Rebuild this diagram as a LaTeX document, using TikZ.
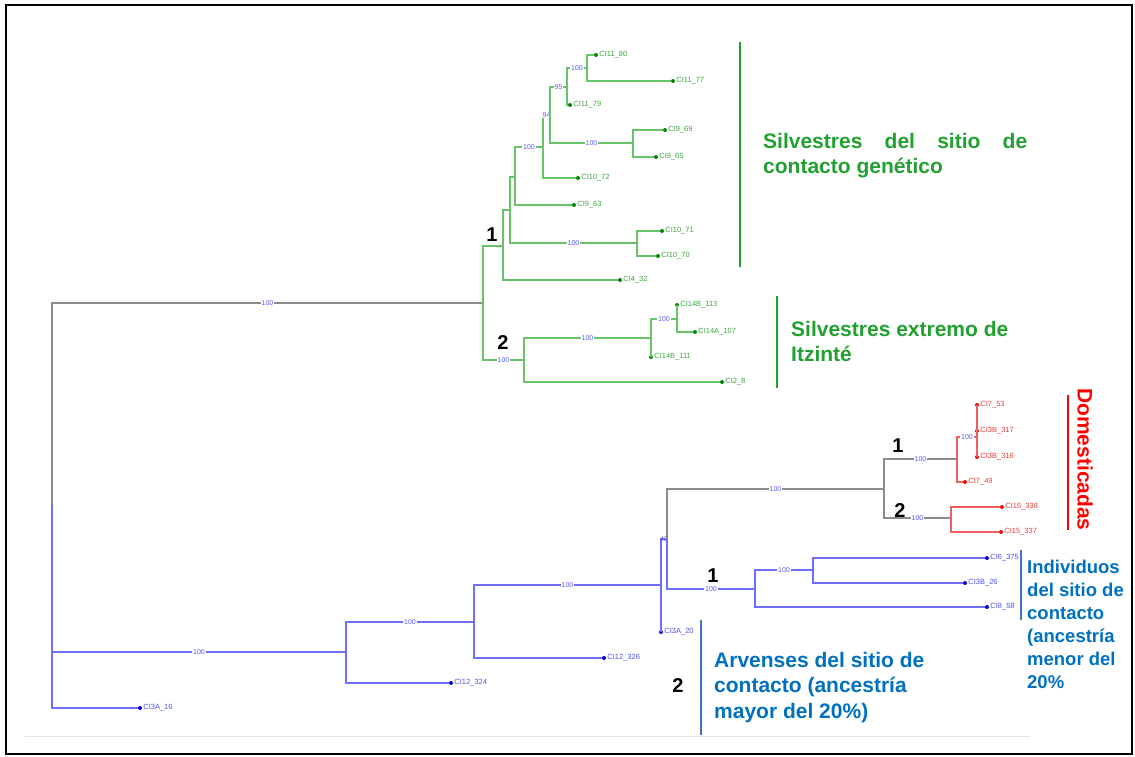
\documentclass[tikz,border=0pt]{standalone}
\usepackage{fontspec}
\setmainfont{Liberation Sans}
\definecolor{ramaverde}{RGB}{105,195,105}
\definecolor{puntoverde}{RGB}{0,135,0}
\definecolor{txtv}{RGB}{60,165,60}
\definecolor{ramaazul}{RGB}{110,110,255}
\definecolor{puntoazul}{RGB}{0,0,210}
\definecolor{txta}{RGB}{80,80,235}
\definecolor{ramaroja}{RGB}{238,95,95}
\definecolor{txtr}{RGB}{235,60,60}
\definecolor{ramagris}{RGB}{140,140,140}
\definecolor{bootazul}{RGB}{90,90,255}
\definecolor{notaverde}{RGB}{34,160,48}
\definecolor{notaazul}{RGB}{0,112,192}
\definecolor{barraazul}{RGB}{68,114,196}
\tikzset{
  verde/.style={draw=ramaverde, line width=1.4pt},
  azul/.style={draw=ramaazul, line width=1.4pt},
  roja/.style={draw=ramaroja, line width=1.4pt},
  gris/.style={draw=ramagris, line width=1.4pt},
  boot/.style={pos=0.75, fill=white, text=bootazul, inner sep=0.8pt, font=\fontsize{7}{7}\selectfont},
  hojav/.style={circle, fill=puntoverde, inner sep=0pt, minimum size=4pt,
    label={[text=txtv, inner sep=1pt, font=\fontsize{7.5}{7.5}\selectfont]right:#1}},
  hojaa/.style={circle, fill=puntoazul, inner sep=0pt, minimum size=4pt,
    label={[text=txta, inner sep=1pt, font=\fontsize{7.5}{7.5}\selectfont]right:#1}},
  hojar/.style={circle, fill=red, inner sep=0pt, minimum size=4pt,
    label={[text=txtr, inner sep=1pt, font=\fontsize{7.5}{7.5}\selectfont]right:#1}},
  grupo/.style={font=\bfseries\fontsize{20}{20}\selectfont, inner sep=0pt},
  nota/.style={font=\bfseries\fontsize{21}{25.5}\selectfont, inner sep=0pt, anchor=north west},
}
\begin{document}
\begin{tikzpicture}[x=1pt, y=-1pt]
    \useasboundingbox (0,0) rectangle (1135,757);
    \draw[line width=2.4pt] (6,5) rectangle (1132,754);
    \draw[black!10, line width=1pt] (25,736) -- (1030,736);

    % Nodos internos
    \coordinate (raiz) at (52,505);
    \coordinate (g0) at (483,303);
    \coordinate (g1) at (503,246);
    \coordinate (g2) at (524,360);
    \coordinate (g3) at (510,210);
    \coordinate (g4) at (515,177);
    \coordinate (g5) at (543,147);
    \coordinate (g6) at (550,115);
    \coordinate (g7) at (567,87);
    \coordinate (g8) at (587,68);
    \coordinate (g9) at (633,143);
    \coordinate (g10) at (637,243);
    \coordinate (g11) at (651,338);
    \coordinate (g12) at (677,319);
    \coordinate (b0) at (346,652);
    \coordinate (b1) at (474,622);
    \coordinate (b2) at (661,585);
    \coordinate (b3) at (667,539);
    \coordinate (b4) at (755,589);
    \coordinate (b5) at (813,570);
    \coordinate (r0) at (884,489);
    \coordinate (r1) at (957,459);
    \coordinate (r2) at (951,518);
    \coordinate (r3) at (977,437);

    % Hojas
    \node[hojav=CI11\_80] (c1180) at (596,55) {};
    \node[hojav=CI11\_77] (c1177) at (673,81) {};
    \node[hojav=CI11\_79] (c1179) at (570,105) {};
    \node[hojav=CI9\_69] (c969) at (665,130) {};
    \node[hojav=CI9\_65] (c965) at (656,157) {};
    \node[hojav=CI10\_72] (c1072) at (578,178) {};
    \node[hojav=CI9\_63] (c963) at (574,205) {};
    \node[hojav=CI10\_71] (c1071) at (662,231) {};
    \node[hojav=CI10\_70] (c1070) at (658,256) {};
    \node[hojav=CI4\_32] (c432) at (620,280) {};
    \node[hojav=CI14B\_113] (c14b113) at (677,305) {};
    \node[hojav=CI14A\_107] (c14a107) at (695,332) {};
    \node[hojav=CI14B\_111] (c14b111) at (651,357) {};
    \node[hojav=CI2\_8] (c28) at (722,382) {};
    \node[hojar=CI7\_53] (c753) at (977,405) {};
    \node[hojar=CI3B\_317] (c3b317) at (977,431) {};
    \node[hojar=CI3B\_316] (c3b316) at (977,457) {};
    \node[hojar=CI7\_49] (c749) at (965,482) {};
    \node[hojar=CI15\_338] (c15338) at (1002,507) {};
    \node[hojar=CI15\_337] (c15337) at (1001,532) {};
    \node[hojaa=CI6\_375] (c6375) at (987,558) {};
    \node[hojaa=CI3B\_26] (c3b26) at (965,583) {};
    \node[hojaa=CI8\_58] (c858) at (987,607) {};
    \node[hojaa=CI3A\_20] (c3a20) at (661,632) {};
    \node[hojaa=CI12\_326] (c12326) at (604,658) {};
    \node[hojaa=CI12\_324] (c12324) at (451,683) {};
    \node[hojaa=CI3A\_16] (c3a16) at (140,708) {};

    % Ramas
    \draw[gris] (raiz) |- (g0) node[boot]{100};
    \draw[azul] (raiz) |- (b0) node[boot]{100};
    \draw[azul] (raiz) |- (c3a16);
    \draw[verde] (g0) |- (g1);
    \draw[verde] (g0) |- (g2) node[boot]{100};
    \draw[verde] (g1) |- (g3);
    \draw[verde] (g1) |- (c432);
    \draw[verde] (g3) |- (g4);
    \draw[verde] (g3) |- (g10) node[boot]{100};
    \draw[verde] (g4) |- (g5) node[boot]{100};
    \draw[verde] (g4) |- (c963);
    \draw[verde] (g5) |- (g6) node[boot]{94};
    \draw[verde] (g5) |- (c1072);
    \draw[verde] (g6) |- (g7) node[boot]{95};
    \draw[verde] (g6) |- (g9) node[boot]{100};
    \draw[verde] (g7) |- (g8) node[boot]{100};
    \draw[verde] (g7) |- (c1179);
    \draw[verde] (g8) |- (c1180);
    \draw[verde] (g8) |- (c1177);
    \draw[verde] (g9) |- (c969);
    \draw[verde] (g9) |- (c965);
    \draw[verde] (g10) |- (c1071);
    \draw[verde] (g10) |- (c1070);
    \draw[verde] (g2) |- (g11) node[boot]{100};
    \draw[verde] (g2) |- (c28);
    \draw[verde] (g11) |- (g12) node[boot]{100};
    \draw[verde] (g11) |- (c14b111);
    \draw[verde] (g12) |- (c14b113);
    \draw[verde] (g12) |- (c14a107);
    \draw[azul] (b0) |- (b1) node[boot]{100};
    \draw[azul] (b0) |- (c12324);
    \draw[azul] (b1) |- (b2) node[boot]{100};
    \draw[azul] (b1) |- (c12326);
    \draw[azul] (b2) |- (b3) node[boot, fill=none]{42};
    \draw[azul] (b2) |- (c3a20);
    \draw[gris] (b3) |- (r0) node[boot]{100};
    \draw[azul] (b3) |- (b4) node[boot]{100};
    \draw[azul] (b4) |- (b5) node[boot]{100};
    \draw[azul] (b4) |- (c858);
    \draw[azul] (b5) |- (c6375);
    \draw[azul] (b5) |- (c3b26);
    \draw[gris] (r0) |- (r1) node[boot]{100};
    \draw[gris] (r0) |- (r2) node[boot]{100};
    \draw[roja] (r1) |- (r3) node[boot]{100};
    \draw[roja] (r1) |- (c749);
    \draw[roja] (r3) |- (c753);
    \draw[roja] (r3) |- (c3b317);
    \draw[roja] (r3) |- (c3b316);
    \draw[roja] (r2) |- (c15338);
    \draw[roja] (r2) |- (c15337);

    % Grupos
    \node[grupo] (n1v) at (492,235) {1};
    \node[grupo] (n2v) at (503,343) {2};
    \node[grupo] (n1r) at (898,446) {1};
    \node[grupo] (n2r) at (900,511) {2};
    \node[grupo] (n1a) at (713,576) {1};
    \node[grupo] (n2a) at (678,686) {2};

    % Barras y notas
    \draw[notaverde, line width=2pt] (740,42) -- (740,267);
    \draw[notaverde, line width=2pt] (777,296) -- (777,388);
    \draw[red, line width=2pt] (1068,395) -- (1068,530);
    \draw[barraazul, line width=2pt] (1021,550) -- (1021,620);
    \draw[barraazul, line width=2pt] (701,620) -- (701,735);
    \node[nota, text=notaverde, text width=264pt, align=justify] (silv) at (763,133) {Silvestres del sitio de \mbox{contacto} genético};
    \node[nota, text=notaverde, align=left] (itz) at (791,321) {Silvestres extremo de\\Itzinté};
    \node[nota, text=red, rotate=-90] (dom) at (1093,388) {Domesticadas};
    \node[nota, text=notaazul, align=left, font=\bfseries\fontsize{18.5}{23}\selectfont] (indiv) at (1027,560) {Individuos\\del sitio de\\contacto\\(ancestría\\menor del\\20\%};
    \node[nota, text=notaazul, align=left] (arv) at (714,652) {Arvenses del sitio de\\contacto (ancestría\\mayor del 20\%)};
\end{tikzpicture}
\end{document}
